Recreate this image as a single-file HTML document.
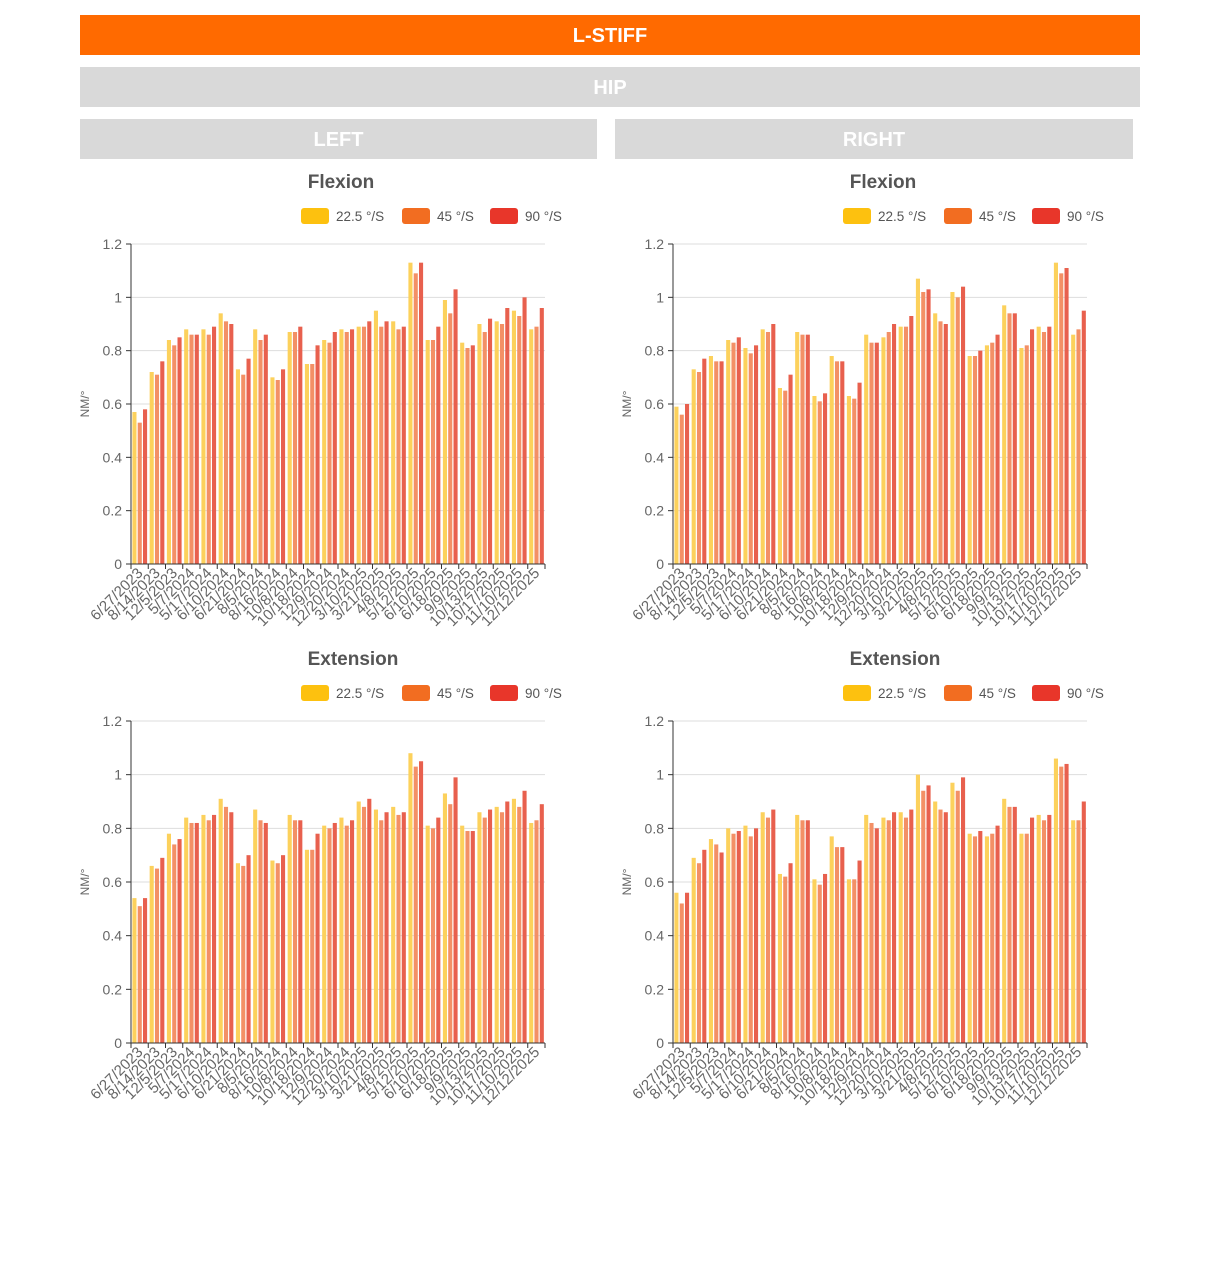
<!DOCTYPE html>
<html><head><meta charset="utf-8">
<style>
body{margin:0;background:#fff;width:1220px;height:1281px;position:relative;overflow:hidden;font-family:"Liberation Sans",sans-serif}
.bar{position:absolute;color:#fff;font-weight:bold;font-size:20px;text-align:center;line-height:42px;height:40px}
svg{position:absolute;left:0;top:0}
</style></head><body>
<div class="bar" style="left:80px;top:15px;width:1060px;background:#ff6a00">L-STIFF</div>
<div class="bar" style="left:80px;top:67px;width:1060px;background:#d9d9d9">HIP</div>
<div class="bar" style="left:80px;top:119px;width:517px;background:#d9d9d9">LEFT</div>
<div class="bar" style="left:615px;top:119px;width:518px;background:#d9d9d9">RIGHT</div>
<svg id="s" width="1220" height="1281" font-family="Liberation Sans, sans-serif">
<g id="static">
<text x="341" y="188" text-anchor="middle" font-size="19" font-weight="bold" fill="#555">Flexion</text>
<text x="883" y="188" text-anchor="middle" font-size="19" font-weight="bold" fill="#555">Flexion</text>
<text x="353" y="665" text-anchor="middle" font-size="19" font-weight="bold" fill="#555">Extension</text>
<text x="895" y="665" text-anchor="middle" font-size="19" font-weight="bold" fill="#555">Extension</text>
</g>
<g id="leg1"><rect x="301" y="208" width="28" height="16" rx="3" fill="#fdc10f"/><text x="336" y="221" font-size="13.5" fill="#555">22.5 °/S</text>
<rect x="402" y="208" width="28" height="16" rx="3" fill="#f26d21"/><text x="437" y="221" font-size="13.5" fill="#555">45 °/S</text>
<rect x="490" y="208" width="28" height="16" rx="3" fill="#e8362a"/><text x="525" y="221" font-size="13.5" fill="#555">90 °/S</text></g>
<g transform="translate(542,0)"><rect x="301" y="208" width="28" height="16" rx="3" fill="#fdc10f"/><text x="336" y="221" font-size="13.5" fill="#555">22.5 °/S</text>
<rect x="402" y="208" width="28" height="16" rx="3" fill="#f26d21"/><text x="437" y="221" font-size="13.5" fill="#555">45 °/S</text>
<rect x="490" y="208" width="28" height="16" rx="3" fill="#e8362a"/><text x="525" y="221" font-size="13.5" fill="#555">90 °/S</text></g>
<g transform="translate(0,477)"><rect x="301" y="208" width="28" height="16" rx="3" fill="#fdc10f"/><text x="336" y="221" font-size="13.5" fill="#555">22.5 °/S</text>
<rect x="402" y="208" width="28" height="16" rx="3" fill="#f26d21"/><text x="437" y="221" font-size="13.5" fill="#555">45 °/S</text>
<rect x="490" y="208" width="28" height="16" rx="3" fill="#e8362a"/><text x="525" y="221" font-size="13.5" fill="#555">90 °/S</text></g>
<g transform="translate(542,477)"><rect x="301" y="208" width="28" height="16" rx="3" fill="#fdc10f"/><text x="336" y="221" font-size="13.5" fill="#555">22.5 °/S</text>
<rect x="402" y="208" width="28" height="16" rx="3" fill="#f26d21"/><text x="437" y="221" font-size="13.5" fill="#555">45 °/S</text>
<rect x="490" y="208" width="28" height="16" rx="3" fill="#e8362a"/><text x="525" y="221" font-size="13.5" fill="#555">90 °/S</text></g>
<g id="c0" class="c"><text class="yl">NM/°</text><g class="yt"><text>0</text><text>0.2</text><text>0.4</text><text>0.6</text><text>0.8</text><text>1</text><text>1.2</text></g><g class="xl"><text>6/27/2023</text><text>8/14/2023</text><text>12/5/2023</text><text>5/7/2024</text><text>5/17/2024</text><text>6/10/2024</text><text>6/21/2024</text><text>8/5/2024</text><text>8/16/2024</text><text>10/8/2024</text><text>10/18/2024</text><text>12/9/2024</text><text>12/20/2024</text><text>3/10/2025</text><text>3/21/2025</text><text>4/8/2025</text><text>5/12/2025</text><text>6/10/2025</text><text>6/18/2025</text><text>9/9/2025</text><text>10/13/2025</text><text>10/17/2025</text><text>11/10/2025</text><text>12/12/2025</text></g></g>
<g id="c1" class="c"><text class="yl">NM/°</text><g class="yt"><text>0</text><text>0.2</text><text>0.4</text><text>0.6</text><text>0.8</text><text>1</text><text>1.2</text></g><g class="xl"><text>6/27/2023</text><text>8/14/2023</text><text>12/5/2023</text><text>5/7/2024</text><text>5/17/2024</text><text>6/10/2024</text><text>6/21/2024</text><text>8/5/2024</text><text>8/16/2024</text><text>10/8/2024</text><text>10/18/2024</text><text>12/9/2024</text><text>12/20/2024</text><text>3/10/2025</text><text>3/21/2025</text><text>4/8/2025</text><text>5/12/2025</text><text>6/10/2025</text><text>6/18/2025</text><text>9/9/2025</text><text>10/13/2025</text><text>10/17/2025</text><text>11/10/2025</text><text>12/12/2025</text></g></g>
<g id="c2" class="c"><text class="yl">NM/°</text><g class="yt"><text>0</text><text>0.2</text><text>0.4</text><text>0.6</text><text>0.8</text><text>1</text><text>1.2</text></g><g class="xl"><text>6/27/2023</text><text>8/14/2023</text><text>12/5/2023</text><text>5/7/2024</text><text>5/17/2024</text><text>6/10/2024</text><text>6/21/2024</text><text>8/5/2024</text><text>8/16/2024</text><text>10/8/2024</text><text>10/18/2024</text><text>12/9/2024</text><text>12/20/2024</text><text>3/10/2025</text><text>3/21/2025</text><text>4/8/2025</text><text>5/12/2025</text><text>6/10/2025</text><text>6/18/2025</text><text>9/9/2025</text><text>10/13/2025</text><text>10/17/2025</text><text>11/10/2025</text><text>12/12/2025</text></g></g>
<g id="c3" class="c"><text class="yl">NM/°</text><g class="yt"><text>0</text><text>0.2</text><text>0.4</text><text>0.6</text><text>0.8</text><text>1</text><text>1.2</text></g><g class="xl"><text>6/27/2023</text><text>8/14/2023</text><text>12/5/2023</text><text>5/7/2024</text><text>5/17/2024</text><text>6/10/2024</text><text>6/21/2024</text><text>8/5/2024</text><text>8/16/2024</text><text>10/8/2024</text><text>10/18/2024</text><text>12/9/2024</text><text>12/20/2024</text><text>3/10/2025</text><text>3/21/2025</text><text>4/8/2025</text><text>5/12/2025</text><text>6/10/2025</text><text>6/18/2025</text><text>9/9/2025</text><text>10/13/2025</text><text>10/17/2025</text><text>11/10/2025</text><text>12/12/2025</text></g></g>
</svg>
<script>
var D=[
[[.57,.53,.58],[.72,.71,.76],[.84,.82,.85],[.88,.86,.86],[.88,.86,.89],[.94,.91,.90],[.73,.71,.77],[.88,.84,.86],[.70,.69,.73],[.87,.87,.89],[.75,.75,.82],[.84,.83,.87],[.88,.87,.88],[.89,.89,.91],[.95,.89,.91],[.91,.88,.89],[1.13,1.09,1.13],[.84,.84,.89],[.99,.94,1.03],[.83,.81,.82],[.90,.87,.92],[.91,.90,.96],[.95,.93,1.00],[.88,.89,.96]],
[[.59,.56,.60],[.73,.72,.77],[.78,.76,.76],[.84,.83,.85],[.81,.79,.82],[.88,.87,.90],[.66,.65,.71],[.87,.86,.86],[.63,.61,.64],[.78,.76,.76],[.63,.62,.68],[.86,.83,.83],[.85,.87,.90],[.89,.89,.93],[1.07,1.02,1.03],[.94,.91,.90],[1.02,1.00,1.04],[.78,.78,.80],[.82,.83,.86],[.97,.94,.94],[.81,.82,.88],[.89,.87,.89],[1.13,1.09,1.11],[.86,.88,.95]],
[[.54,.51,.54],[.66,.65,.69],[.78,.74,.76],[.84,.82,.82],[.85,.83,.85],[.91,.88,.86],[.67,.66,.70],[.87,.83,.82],[.68,.67,.70],[.85,.83,.83],[.72,.72,.78],[.81,.80,.82],[.84,.81,.83],[.90,.88,.91],[.87,.83,.86],[.88,.85,.86],[1.08,1.03,1.05],[.81,.80,.84],[.93,.89,.99],[.81,.79,.79],[.86,.84,.87],[.88,.86,.90],[.91,.88,.94],[.82,.83,.89]],
[[.56,.52,.56],[.69,.67,.72],[.76,.74,.71],[.80,.78,.79],[.81,.77,.80],[.86,.84,.87],[.63,.62,.67],[.85,.83,.83],[.61,.59,.63],[.77,.73,.73],[.61,.61,.68],[.85,.82,.80],[.84,.83,.86],[.86,.84,.87],[1.00,.94,.96],[.90,.87,.86],[.97,.94,.99],[.78,.77,.79],[.77,.78,.81],[.91,.88,.88],[.78,.78,.84],[.85,.83,.85],[1.06,1.03,1.04],[.83,.83,.90]]];
var G=[{x:131,r:545,y0:564,yt:244},{x:673,r:1087,y0:564,yt:244},{x:131,r:545,y0:1043,yt:721},{x:673,r:1087,y0:1043,yt:721}];
var C=["#fcd15c","#f39066","#e8604e"],NS="http://www.w3.org/2000/svg";
function el(p,t,a){var e=document.createElementNS(NS,t);for(var k in a)e.setAttribute(k,a[k]);p.appendChild(e);return e;}
for(var c=0;c<4;c++){var g=G[c],grp=document.getElementById("c"+c),sc=(g.y0-g.yt)/1.2,cw=(g.r-g.x)/24;
 var yts=grp.querySelector(".yt").children;
 for(var i=0;i<7;i++){var y=g.y0-i*0.2*sc;
  if(i>0)el(grp,"line",{x1:g.x,x2:g.r,y1:y,y2:y,stroke:"#ddd","stroke-width":1});
  el(grp,"line",{x1:g.x-5,x2:g.x,y1:y,y2:y,stroke:"#333"});
  var t=yts[i];t.setAttribute("x",g.x-9);t.setAttribute("y",y+5);t.setAttribute("text-anchor","end");t.setAttribute("font-size","14");t.setAttribute("fill","#666");}
 var yl=grp.querySelector(".yl");yl.setAttribute("transform","translate("+(g.x-42)+","+((g.y0+g.yt)/2)+") rotate(-90)");yl.setAttribute("text-anchor","middle");yl.setAttribute("font-size","12");yl.setAttribute("fill","#666");
 var xls=grp.querySelector(".xl").children;
 for(var i=0;i<24;i++){var x0=g.x+i*cw;
  for(var j=0;j<3;j++){var v=D[c][i][j],h=v*sc;el(grp,"rect",{x:x0+1.4+j*5.3,y:g.y0-h,width:4.1,height:h,fill:C[j]});}
  el(grp,"line",{x1:x0,x2:x0,y1:g.y0,y2:g.y0+5,stroke:"#333"});
  var t=xls[i],cx=x0+cw/2+4;t.setAttribute("transform","translate("+cx+","+(g.y0+10)+") rotate(-45)");t.setAttribute("text-anchor","end");t.setAttribute("font-size","15");t.setAttribute("fill","#666");}
 el(grp,"line",{x1:g.r,x2:g.r,y1:g.y0,y2:g.y0+5,stroke:"#333"});
 el(grp,"line",{x1:g.x,x2:g.r,y1:g.y0,y2:g.y0,stroke:"#333"});
 el(grp,"line",{x1:g.x,x2:g.x,y1:g.yt,y2:g.y0,stroke:"#333"});
}
</script>
</body></html>
